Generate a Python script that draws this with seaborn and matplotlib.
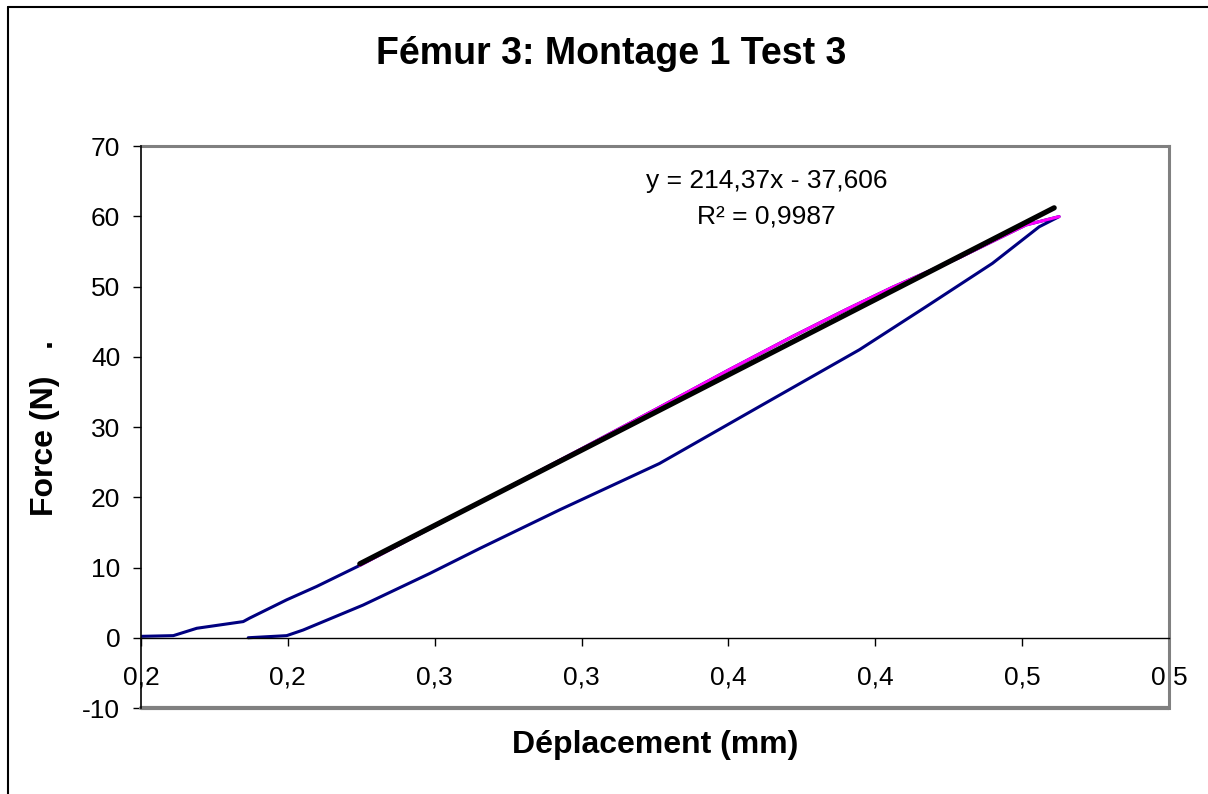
import matplotlib.pyplot as plt
import numpy as np
import pandas as pd
import seaborn as sns
from matplotlib.lines import Line2D


TITLE = "Fémur 3: Montage 1 Test 3"
X_LABEL = "Déplacement (mm)"
Y_LABEL = "Force (N)   ."

# loading branch (mm, N)
load_x = [0.150, 0.161, 0.169, 0.1848, 0.187, 0.1996, 0.2098, 0.2245]
load_y = [0.2, 0.3, 1.35, 2.3, 2.8, 5.4, 7.3, 10.3]

# portion used for the linear fit (magenta)
fit_x = [0.2245, 0.25, 0.28, 0.30, 0.3265, 0.35, 0.3719, 0.39, 0.4059,
         0.4286, 0.4513, 0.4626]
fit_y = [10.3, 15.9, 22.5, 26.9, 32.8, 38.1, 42.9, 46.7, 49.9,
         54.1, 58.76, 59.95]

# unloading branch
unload_x = [0.4626, 0.4558, 0.4399, 0.4172, 0.3946, 0.3605, 0.3265, 0.2925,
            0.2653, 0.2483, 0.2256, 0.2052, 0.1996, 0.1865]
unload_y = [59.95, 58.5, 53.3, 47.1, 41.0, 32.9, 24.8, 18.2,
            12.7, 9.15, 4.65, 1.1, 0.3, 0.0]

SLOPE = 214.37
INTERCEPT = -37.606
R2 = 0.9987

x_tick_values = [0.15, 0.20, 0.25, 0.30, 0.35, 0.40, 0.45, 0.50]
x_tick_labels = ["0,2", "0,2", "0,3", "0,3", "0,4", "0,4", "0,5", "0,5"]
y_tick_values = [-10, 0, 10, 20, 30, 40, 50, 60, 70]

NAVY = "#000080"
MAGENTA = "#FF00FF"
GRAY = "#808080"

sns.set_style("white")
plt.rcParams["font.family"] = ["Liberation Sans", "DejaVu Sans"]
plt.rcParams["text.color"] = "black"
plt.rcParams["axes.labelcolor"] = "black"
plt.rcParams["axes.unicode_minus"] = False

W, H = 1208, 794
fig = plt.figure(figsize=(W / 100, H / 100), dpi=100)
ax = fig.add_axes([141 / W, 1 - 708 / H, (1169 - 141) / W, (708 - 146) / H])

curve = pd.DataFrame({
    "x": load_x + fit_x[1:] + unload_x[1:],
    "y": load_y + fit_y[1:] + unload_y[1:],
})
sns.lineplot(data=curve, x="x", y="y", sort=False, estimator=None,
             color=NAVY, lw=2.2, ax=ax)

fit = pd.DataFrame({"x": fit_x, "y": fit_y})
sns.lineplot(data=fit, x="x", y="y", sort=False, estimator=None,
             color=MAGENTA, lw=2.2, ax=ax)

trend_x = np.array([fit_x[0], 0.4609])
ax.plot(trend_x, SLOPE * trend_x + INTERCEPT, color="black", lw=3.8,
        solid_capstyle="round")

ax.set_xlim(0.15, 0.50)
ax.set_ylim(-10, 70)
ax.set_xticks(x_tick_values)
ax.set_xticklabels(x_tick_labels)
ax.set_yticks(y_tick_values)

ax.spines["bottom"].set_position(("data", 0))
ax.spines["bottom"].set_color("black")
ax.spines["bottom"].set_linewidth(1.0)
ax.spines["left"].set_color("black")
ax.spines["left"].set_linewidth(1.2)
ax.spines["left"].set_zorder(5)
for side in ["top", "right"]:
    ax.spines[side].set_color(GRAY)
    ax.spines[side].set_linewidth(2.2)
ax.axhline(-10, color=GRAY, lw=3, clip_on=False, zorder=4)

ax.tick_params(axis="x", direction="out", length=6, width=1, pad=14,
               labelsize=19, bottom=True, colors="black")
ax.tick_params(axis="y", direction="out", length=6, width=1, pad=9,
               labelsize=19, left=True, colors="black")

ax.set_xlabel("")
ax.set_ylabel("")
fig.text(655 / W, 1 - 745 / H, X_LABEL, ha="center", va="center",
         fontsize=23, fontweight="bold")
fig.text(45 / W, 1 - 428 / H, Y_LABEL, ha="center", va="center",
         rotation=90, fontsize=23, fontweight="bold")
fig.text(611 / W, 1 - 54 / H, TITLE, ha="center", va="center",
         fontsize=27, fontweight="bold")

ax.text(0.363, 65.0, "y = 214,37x - 37,606", ha="center", va="center",
        fontsize=19)
ax.text(0.363, 60.0, f"R² = {R2}".replace(".", ","), ha="center",
        va="center", fontsize=19)

x0 = 8 / W
y1 = 1 - 7 / H
fig.add_artist(Line2D([x0, x0], [0, y1], color="black", lw=1.5))
fig.add_artist(Line2D([x0, 1], [y1, y1], color="black", lw=1.5))

fig.savefig("out.png", dpi=100)
